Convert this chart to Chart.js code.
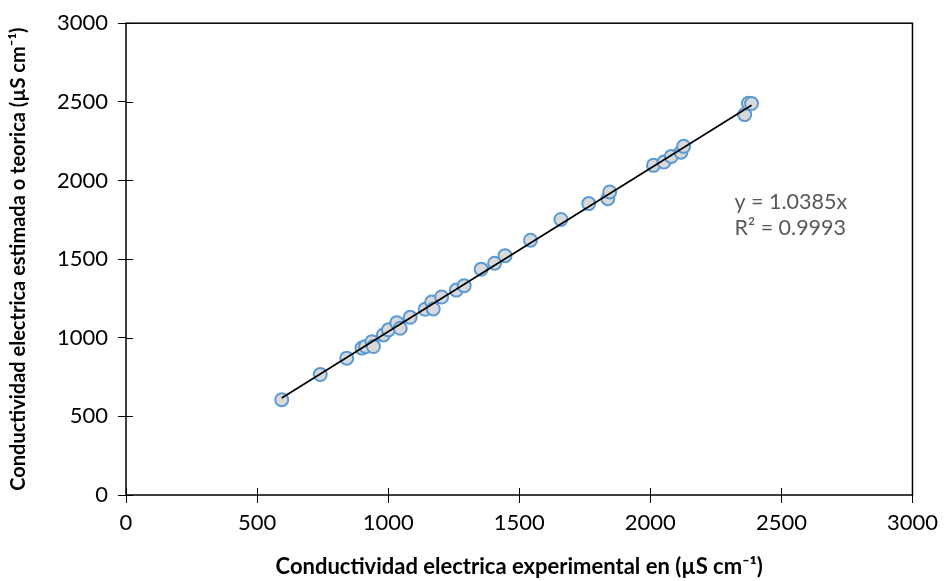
<!DOCTYPE html>
<html>
<head>
<meta charset="utf-8">
<script src="https://cdn.jsdelivr.net/npm/chart.js@4.4.1/dist/chart.umd.min.js"></script>
<style>
  html, body { margin: 0; padding: 0; background: #fff; }
  #wrap { width: 945px; height: 581px; }
</style>
</head>
<body>
<div id="wrap"><canvas id="scatterChart" width="945" height="581"></canvas></div>
<script>
// experimental vs estimated conductivity (uS/cm)
let expX = [594, 741, 842, 900, 914, 938, 944, 982, 1001, 1033, 1046, 1084, 1141, 1166, 1172, 1204, 1260, 1290,
    1355, 1406, 1446, 1543, 1659, 1765, 1838, 1845, 2012, 2052, 2080, 2117, 2127, 2360, 2374, 2386];
let estY = [606, 766, 870, 934, 945, 975, 944, 1018, 1050, 1096, 1060, 1130, 1181, 1227, 1183, 1259, 1303, 1331,
    1436, 1474, 1522, 1620, 1752, 1853, 1884, 1927, 2096, 2117, 2153, 2180, 2217, 2419, 2491, 2489];
let slope = 1.0385;
let eqLines = ["y = 1.0385x", "R\u00b2 = 0.9993"];
let eqAnchor = [2321, 1862];
let tickValues = [0, 500, 1000, 1500, 2000, 2500, 3000];

const points = expX.map(function (x, i) {
    return { x: x, y: estY[i] };
});
const xMin = Math.min(...expX), xMax = Math.max(...expX);
const trend = [{ x: xMin, y: slope * xMin }, { x: xMax, y: slope * xMax }];

const FONT = "Lato, 'Open Sans', sans-serif";

// box round the plot area + ticks that cross the axis
const frame = {
    id: 'frame',
    afterDraw(chart) {
        const c = chart.ctx, a = chart.chartArea;
        const xs = chart.scales.x, ys = chart.scales.y;
        c.save();
        c.strokeStyle = '#000';
        c.lineWidth = 1.5;
        c.strokeRect(a.left, a.top, a.right - a.left, a.bottom - a.top);
        c.lineWidth = 1;
        tickValues.forEach(function (v) {
            let px = Math.round(xs.getPixelForValue(v)) + 0.5;
            c.beginPath(); c.moveTo(px, a.bottom); c.lineTo(px, a.bottom - 7); c.stroke();
            let py = Math.round(ys.getPixelForValue(v)) + 0.5;
            c.beginPath(); c.moveTo(a.left, py); c.lineTo(a.left + 7, py); c.stroke();
        });
        // trendline equation
        c.fillStyle = '#595959';
        c.font = "21.5px " + FONT;
        c.textAlign = 'left';
        c.textBaseline = 'middle';
        let ex = xs.getPixelForValue(eqAnchor[0]);
        let ey = ys.getPixelForValue(eqAnchor[1]);
        eqLines.forEach(function (t, i) {
            c.fillText(t, ex, ey + i * 26);
        });
        c.restore();
    }
};

new Chart(document.getElementById('scatterChart').getContext('2d'), {
    type: 'scatter',
    data: {
        datasets: [
            {
                data: points,
                backgroundColor: '#d9d9d9',
                borderColor: '#5b9bd5',
                borderWidth: 2,
                pointRadius: 6.5,
                order: 2
            },
            {
                type: 'line',
                data: trend,
                borderColor: '#000',
                borderWidth: 1.75,
                pointRadius: 0,
                fill: false,
                order: 1
            }
        ]
    },
    options: {
        responsive: false,
        animation: false,
        layout: { padding: { top: 22, right: 28, left: 0, bottom: 0 } },
        plugins: { legend: { display: false }, tooltip: { enabled: false } },
        scales: {
            x: {
                type: 'linear', min: 0, max: 3000,
                afterFit(s) { s.height = 86; },
                afterBuildTicks(s) { s.ticks = tickValues.map(v => ({ value: v })); },
                border: { display: false },
                grid: { drawOnChartArea: false, tickLength: 8, color: '#000', lineWidth: 1 },
                ticks: {
                    color: '#000', padding: 7, font: { family: FONT, size: 22 },
                    callback: v => String(v)
                },
                title: {
                    display: true,
                    text: 'Conductividad electrica experimental en (\u00b5S cm\u207b\u00b9)',
                    color: '#000',
                    font: { family: FONT, size: 22, weight: 'bold' },
                    padding: { top: 0, bottom: 1 }
                }
            },
            y: {
                type: 'linear', min: 0, max: 3000,
                afterFit(s) { s.width = 126; },
                afterBuildTicks(s) { s.ticks = tickValues.map(v => ({ value: v })); },
                border: { display: false },
                grid: { drawOnChartArea: false, tickLength: 8, color: '#000', lineWidth: 1 },
                ticks: {
                    color: '#000', padding: 10, font: { family: FONT, size: 22 },
                    callback: v => String(v)
                },
                title: {
                    display: true,
                    text: 'Conductividad electrica estimada o teorica (\u00b5S cm\u207b\u00b9)',
                    color: '#000',
                    font: { family: FONT, size: 20, weight: 'bold' },
                    padding: { top: 7, bottom: 0 }
                }
            }
        }
    },
    plugins: [frame]
});
</script>
</body>
</html>
